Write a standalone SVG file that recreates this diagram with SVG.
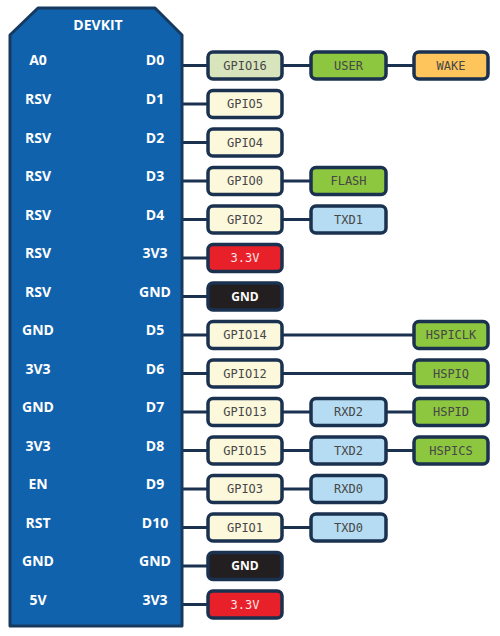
<svg xmlns="http://www.w3.org/2000/svg" width="500" height="636" viewBox="0 0 500 636">
<style>
.board{fill:#1162ad;stroke:#163a5f;stroke-width:3;stroke-linejoin:round}
.bl{font-family:"Open Sans","DejaVu Sans",sans-serif;font-weight:bold;font-size:14px;fill:#ffffff;text-anchor:middle}
.box{stroke:#1a3150;stroke-width:3.5}
.bt{font-family:"DejaVu Sans Mono","Liberation Mono",monospace;font-size:12px;fill:#474747;text-anchor:middle}
.wt{font-family:"DejaVu Sans Mono","Liberation Mono",monospace;font-size:12px;fill:#fde4e6;text-anchor:middle}
.gt{font-family:"Open Sans","DejaVu Sans",sans-serif;font-weight:bold;font-size:12px;fill:#ffffff;text-anchor:middle}
.c{stroke:#1a3150;stroke-width:3;fill:none}
.gp{fill:#fcf8dc}.g16{fill:#d8e4bc}.grn{fill:#8dc63f}.org{fill:#fdc55c}.blu{fill:#b5dcf2}.red{fill:#e8202a}.blk{fill:#231f20}
</style>
<g id="connectors">
<path class="c" d="M182 65.5H207M283 65.5H310M387 65.5H413"/>
<path class="c" d="M182 104H207"/>
<path class="c" d="M182 142.5H207"/>
<path class="c" d="M182 181H207M283 181H310"/>
<path class="c" d="M182 219.5H207M283 219.5H310"/>
<path class="c" d="M182 258H207"/>
<path class="c" d="M182 296.5H207"/>
<path class="c" d="M182 335H207M283 335H413"/>
<path class="c" d="M182 373.5H207M283 373.5H413"/>
<path class="c" d="M182 412H207M283 412H310M387 412H413"/>
<path class="c" d="M182 450.5H207M283 450.5H310M387 450.5H413"/>
<path class="c" d="M182 489H207M283 489H310"/>
<path class="c" d="M182 527.5H207M283 527.5H310"/>
<path class="c" d="M182 566H207"/>
<path class="c" d="M182 604.5H207"/>
</g>
<g id="devkit">
<path class="board" d="M38 8H155L182 35V626H10V35Z"/>
<text class="bl" x="98" y="30">DEVKIT</text>
<text class="bl" x="38" y="65">A0</text><text class="bl" x="155" y="65">D0</text>
<text class="bl" x="38" y="104">RSV</text><text class="bl" x="155" y="104">D1</text>
<text class="bl" x="38" y="142.5">RSV</text><text class="bl" x="155" y="142.5">D2</text>
<text class="bl" x="38" y="181">RSV</text><text class="bl" x="155" y="181">D3</text>
<text class="bl" x="38" y="219.5">RSV</text><text class="bl" x="155" y="219.5">D4</text>
<text class="bl" x="38" y="258">RSV</text><text class="bl" x="155" y="258">3V3</text>
<text class="bl" x="38" y="296.5">RSV</text><text class="bl" x="155" y="296.5">GND</text>
<text class="bl" x="38" y="335">GND</text><text class="bl" x="155" y="335">D5</text>
<text class="bl" x="38" y="373.5">3V3</text><text class="bl" x="155" y="373.5">D6</text>
<text class="bl" x="38" y="412">GND</text><text class="bl" x="155" y="412">D7</text>
<text class="bl" x="38" y="450.5">3V3</text><text class="bl" x="155" y="450.5">D8</text>
<text class="bl" x="38" y="489">EN</text><text class="bl" x="155" y="489">D9</text>
<text class="bl" x="38" y="527.5">RST</text><text class="bl" x="155" y="527.5">D10</text>
<text class="bl" x="38" y="566">GND</text><text class="bl" x="155" y="566">GND</text>
<text class="bl" x="38" y="604.5">5V</text><text class="bl" x="155" y="604.5">3V3</text>
</g>
<g id="gpio16"><rect class="box g16" x="208" y="52" width="74" height="27" rx="5"/><text class="bt" x="245" y="69.5">GPIO16</text></g>
<g id="user"><rect class="box grn" x="311" y="52" width="75" height="27" rx="5"/><text class="bt" x="348.5" y="69.5">USER</text></g>
<g id="wake"><rect class="box org" x="414" y="52" width="74" height="27" rx="5"/><text class="bt" x="451" y="69.5">WAKE</text></g>
<g id="gpio5"><rect class="box gp" x="208" y="90.5" width="74" height="27" rx="5"/><text class="bt" x="245" y="108">GPIO5</text></g>
<g id="gpio4"><rect class="box gp" x="208" y="129" width="74" height="27" rx="5"/><text class="bt" x="245" y="146.5">GPIO4</text></g>
<g id="gpio0"><rect class="box gp" x="208" y="167.5" width="74" height="27" rx="5"/><text class="bt" x="245" y="185">GPIO0</text></g>
<g id="flash"><rect class="box grn" x="311" y="167.5" width="75" height="27" rx="5"/><text class="bt" x="348.5" y="185">FLASH</text></g>
<g id="gpio2"><rect class="box gp" x="208" y="206" width="74" height="27" rx="5"/><text class="bt" x="245" y="223.5">GPIO2</text></g>
<g id="txd1"><rect class="box blu" x="311" y="206" width="75" height="27" rx="5"/><text class="bt" x="348.5" y="223.5">TXD1</text></g>
<g id="v33a"><rect class="box red" x="208" y="244.5" width="74" height="27" rx="5"/><text class="wt" x="245" y="262">3.3V</text></g>
<g id="gnda"><rect class="box blk" x="208" y="283" width="74" height="27" rx="5"/><text class="gt" x="245" y="300.5">GND</text></g>
<g id="gpio14"><rect class="box gp" x="208" y="321.5" width="74" height="27" rx="5"/><text class="bt" x="245" y="339">GPIO14</text></g>
<g id="hspiclk"><rect class="box grn" x="414" y="321.5" width="74" height="27" rx="5"/><text class="bt" x="451" y="339">HSPICLK</text></g>
<g id="gpio12"><rect class="box gp" x="208" y="360" width="74" height="27" rx="5"/><text class="bt" x="245" y="377.5">GPIO12</text></g>
<g id="hspiq"><rect class="box grn" x="414" y="360" width="74" height="27" rx="5"/><text class="bt" x="451" y="377.5">HSPIQ</text></g>
<g id="gpio13"><rect class="box gp" x="208" y="398.5" width="74" height="27" rx="5"/><text class="bt" x="245" y="416">GPIO13</text></g>
<g id="rxd2"><rect class="box blu" x="311" y="398.5" width="75" height="27" rx="5"/><text class="bt" x="348.5" y="416">RXD2</text></g>
<g id="hspid"><rect class="box grn" x="414" y="398.5" width="74" height="27" rx="5"/><text class="bt" x="451" y="416">HSPID</text></g>
<g id="gpio15"><rect class="box gp" x="208" y="437" width="74" height="27" rx="5"/><text class="bt" x="245" y="454.5">GPIO15</text></g>
<g id="txd2"><rect class="box blu" x="311" y="437" width="75" height="27" rx="5"/><text class="bt" x="348.5" y="454.5">TXD2</text></g>
<g id="hspics"><rect class="box grn" x="414" y="437" width="74" height="27" rx="5"/><text class="bt" x="451" y="454.5">HSPICS</text></g>
<g id="gpio3"><rect class="box gp" x="208" y="475.5" width="74" height="27" rx="5"/><text class="bt" x="245" y="493">GPIO3</text></g>
<g id="rxd0"><rect class="box blu" x="311" y="475.5" width="75" height="27" rx="5"/><text class="bt" x="348.5" y="493">RXD0</text></g>
<g id="gpio1"><rect class="box gp" x="208" y="514" width="74" height="27" rx="5"/><text class="bt" x="245" y="531.5">GPIO1</text></g>
<g id="txd0"><rect class="box blu" x="311" y="514" width="75" height="27" rx="5"/><text class="bt" x="348.5" y="531.5">TXD0</text></g>
<g id="gndb"><rect class="box blk" x="208" y="552.5" width="74" height="27" rx="5"/><text class="gt" x="245" y="570">GND</text></g>
<g id="v33b"><rect class="box red" x="208" y="591" width="74" height="27" rx="5"/><text class="wt" x="245" y="608.5">3.3V</text></g>
</svg>
